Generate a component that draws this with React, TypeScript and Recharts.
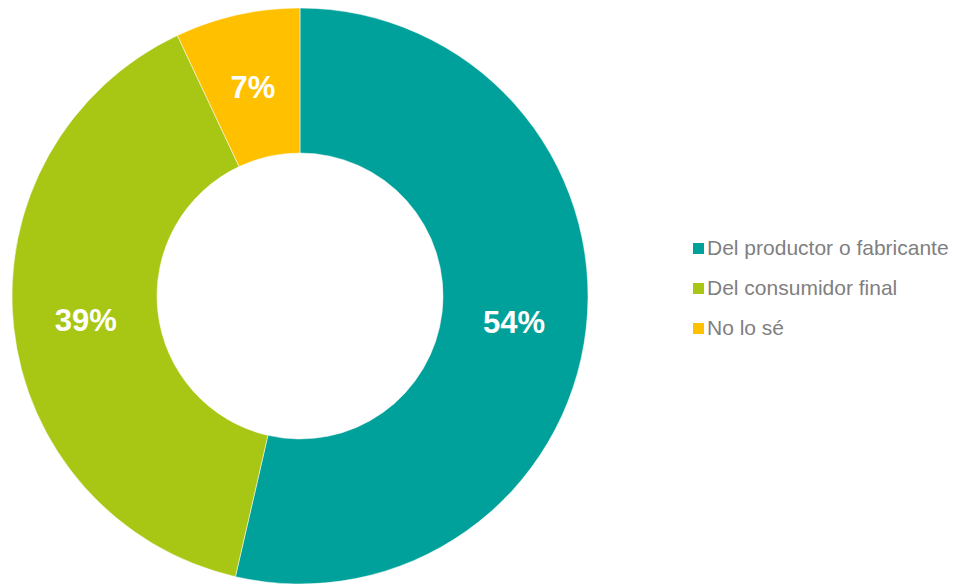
import React from "react";
import { PieChart, Pie, Cell, Legend } from "recharts";

const categories = ["Del productor o fabricante", "Del consumidor final", "No lo sé"];
const values = [53.6, 39.4, 7.0];
const colors = ["#00A19A", "#A8C614", "#FFC000"];

const data = categories.map((name, i) => ({ name, value: values[i] }));

const RAD = Math.PI / 180;

const renderLabel = (props: any) => {
  const { cx, cy, midAngle, innerRadius, outerRadius, value } = props;
  const r = (innerRadius + outerRadius) / 2;
  const x = cx + r * Math.cos(-midAngle * RAD);
  const y = cy + r * Math.sin(-midAngle * RAD);
  return (
    <text
      x={x}
      y={y + 2}
      fill="#FFFFFF"
      textAnchor="middle"
      dominantBaseline="central"
      fontFamily="Liberation Sans, Arial, sans-serif"
      fontWeight="bold"
      fontSize={31}
    >
      {`${Math.round(value)}%`}
    </text>
  );
};

const renderLegend = () => (
  <div style={{ fontFamily: "Liberation Sans, Arial, sans-serif" }}>
    {categories.map((c, i) => (
      <div
        key={c}
        style={{ display: "flex", alignItems: "center", height: 40, color: "#7F7F7F", fontSize: 21 }}
      >
        <span
          style={{ width: 11, height: 11, background: colors[i], display: "inline-block", marginRight: 3, flexShrink: 0 }}
        />
        <span style={{ whiteSpace: "nowrap" }}>{c}</span>
      </div>
    ))}
  </div>
);

export default function App() {
  return (
    <div style={{ position: "absolute", left: 0, top: 0, width: 955, height: 584, background: "#fff" }}>
      <PieChart width={955} height={584} margin={{ top: 0, right: 0, bottom: 0, left: 0 }}>
        <Pie
          data={data}
          dataKey="value"
          nameKey="name"
          cx={300}
          cy={296}
          innerRadius={143}
          outerRadius={288}
          startAngle={90}
          endAngle={-270}
          stroke="#FFFFFF"
          strokeWidth={0.5}
          labelLine={false}
          label={renderLabel}
          isAnimationActive={false}
        >
          {data.map((d, i) => (
            <Cell key={d.name} fill={colors[i]} />
          ))}
        </Pie>
        <Legend
          content={renderLegend}
          layout="vertical"
          wrapperStyle={{ position: "absolute", left: 693, top: 228, width: 262 }}
        />
      </PieChart>
    </div>
  );
}
